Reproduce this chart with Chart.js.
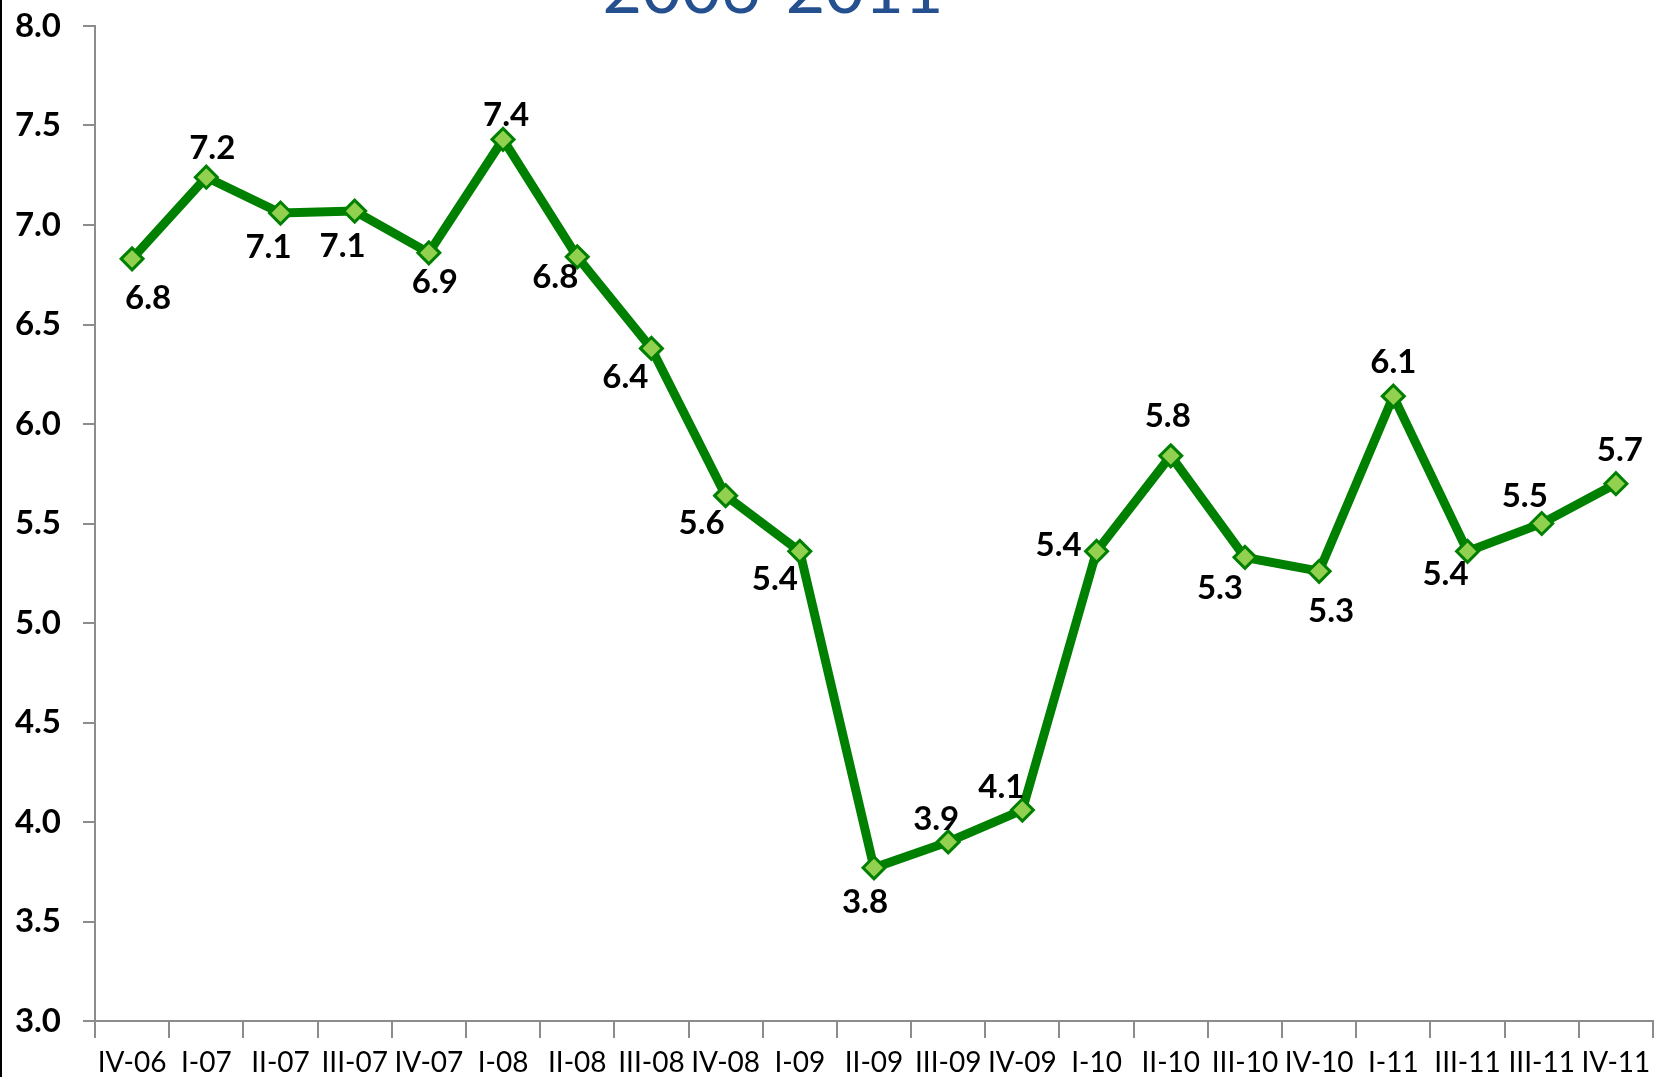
<!DOCTYPE html>
<html>
<head>
<meta charset="utf-8">
<script src="https://cdn.jsdelivr.net/npm/chart.js@4"></script>
<style>
  html, body { margin: 0; padding: 0; background: #fff; }
  #wrap { position: relative; width: 1655px; height: 1077px; }
  #edge { position: absolute; left: 0; top: 0; width: 2px; height: 1077px; background: #000; }
</style>
</head>
<body>
<div id="wrap">
  <canvas id="c"></canvas>
  <div id="edge"></div>
</div>
<script>
// ---- data ----
const categories = ['IV-06','I-07','II-07','III-07','IV-07','I-08','II-08','III-08','IV-08','I-09','II-09','III-09','IV-09','I-10','II-10','III-10','IV-10','I-11','III-11','III-11','IV-11'];
const values = [6.83, 7.24, 7.06, 7.07, 6.86, 7.43, 6.84, 6.38, 5.64, 5.36, 3.77, 3.90, 4.06, 5.36, 5.84, 5.33, 5.26, 6.14, 5.36, 5.50, 5.70];
const yTicks = [3.0, 3.5, 4.0, 4.5, 5.0, 5.5, 6.0, 6.5, 7.0, 7.5, 8.0];
const titleText = '2006-2011';

// ---- label placement (layout only) ----
const labelOffsets = [
  [16, 40], [6, -29], [-12, 34], [-12, 35], [6, 29], [3, -24], [-22, 21],
  [-26, 29], [-24, 28], [-25, 28], [-9, 35], [-12, -23], [-21, -23], [-38, -6],
  [-3, -39], [-25, 31], [12, 40], [0, -34], [-22, 23], [-17, -27], [4, -33]
];

const FONT = 'Lato, "Open Sans", "Noto Sans", sans-serif';

const labelPlugin = {
  id: 'pointLabels',
  afterDatasetsDraw(chart) {
    const ctx = chart.ctx;
    const meta = chart.getDatasetMeta(0);
    ctx.save();
    ctx.font = 'bold 33px ' + FONT;
    ctx.fillStyle = '#000';
    ctx.textAlign = 'center';
    ctx.textBaseline = 'middle';
    meta.data.forEach((pt, i) => {
      const off = labelOffsets[i] || [0, -30];
      ctx.fillText(values[i].toFixed(1), pt.x + off[0], pt.y + off[1]);
    });
    ctx.restore();
  }
};

const titlePlugin = {
  id: 'cutTitle',
  afterDraw(chart) {
    const ctx = chart.ctx;
    ctx.save();
    ctx.font = '68px ' + FONT;
    ctx.fillStyle = '#25508F';
    ctx.textAlign = 'center';
    ctx.textBaseline = 'alphabetic';
    ctx.fillText(titleText, 773, 13);
    ctx.restore();
  }
};

new Chart(document.getElementById('c'), {
  type: 'line',
  data: {
    labels: categories,
    datasets: [{
      data: values,
      borderColor: '#008000',
      borderWidth: 9,
      pointStyle: 'rectRot',
      pointRadius: 11,
      pointHoverRadius: 11,
      pointBackgroundColor: '#92D050',
      pointBorderColor: '#008000',
      pointBorderWidth: 3,
      tension: 0,
      fill: false,
      clip: false
    }]
  },
  options: {
    responsive: true,
    maintainAspectRatio: false,
    animation: false,
    events: [],
    layout: { autoPadding: false, padding: { top: 26, right: 2, left: 0, bottom: 0 } },
    plugins: {
      legend: { display: false },
      title: { display: false },
      tooltip: { enabled: false }
    },
    scales: {
      x: {
        type: 'category',
        offset: true,
        grid: {
          offset: true,
          drawOnChartArea: false,
          drawTicks: true,
          tickLength: 17,
          color: '#8c8c8c',
          lineWidth: 2
        },
        border: { display: true, color: '#8c8c8c', width: 2 },
        ticks: {
          color: '#000',
          font: { family: FONT, size: 28 },
          padding: 8,
          maxRotation: 0,
          minRotation: 0,
          autoSkip: false
        },
        afterFit(scale) { scale.height = 56; scale.paddingLeft = 0; scale.paddingRight = 0; }
      },
      y: {
        min: 3,
        max: 8,
        afterBuildTicks(scale) { scale.ticks = yTicks.map(v => ({ value: v })); },
        grid: {
          drawOnChartArea: false,
          drawTicks: true,
          tickLength: 12,
          color: '#8c8c8c',
          lineWidth: 2
        },
        border: { display: true, color: '#8c8c8c', width: 2 },
        ticks: {
          color: '#000',
          font: { family: FONT, size: 33, weight: 'bold' },
          padding: 22,
          callback: (v) => Number(v).toFixed(1)
        },
        afterFit(scale) { scale.width = 95; scale.paddingTop = 0; scale.paddingBottom = 0; }
      }
    }
  },
  plugins: [labelPlugin, titlePlugin]
});
</script>
</body>
</html>
